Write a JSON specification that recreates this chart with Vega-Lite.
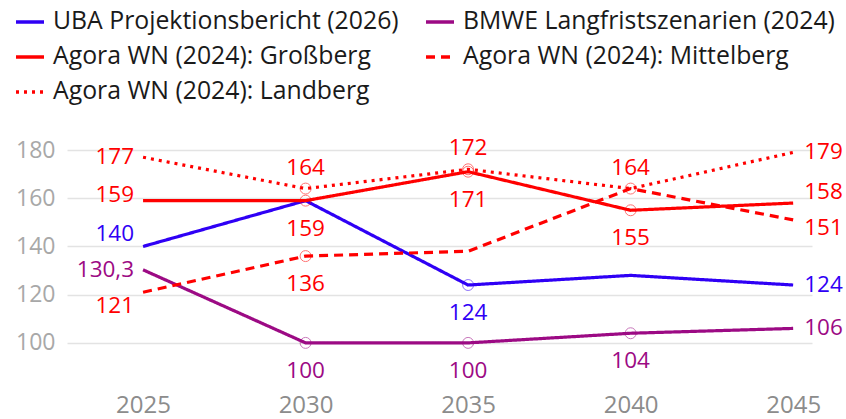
{
  "$schema": "https://vega.github.io/schema/vega-lite/v6.json",
  "width": 745,
  "height": 217,
  "autosize": {"type": "none"},
  "padding": {"left": 67, "top": 150, "right": 34, "bottom": 52},
  "config": {"view": {"stroke": null}, "font": "Open Sans"},
  "data": {
    "values": [
      {"series": "UBA Projektionsbericht (2026)", "year": 2025, "value": 140, "label": "140"},
      {"series": "UBA Projektionsbericht (2026)", "year": 2030, "value": 159, "label": null},
      {"series": "UBA Projektionsbericht (2026)", "year": 2035, "value": 124, "label": "124"},
      {"series": "UBA Projektionsbericht (2026)", "year": 2040, "value": 128, "label": null},
      {"series": "UBA Projektionsbericht (2026)", "year": 2045, "value": 124, "label": "124"},
      {"series": "BMWE Langfristszenarien (2024)", "year": 2025, "value": 130.3, "label": "130,3"},
      {"series": "BMWE Langfristszenarien (2024)", "year": 2030, "value": 100, "label": "100"},
      {"series": "BMWE Langfristszenarien (2024)", "year": 2035, "value": 100, "label": "100"},
      {"series": "BMWE Langfristszenarien (2024)", "year": 2040, "value": 104, "label": "104"},
      {"series": "BMWE Langfristszenarien (2024)", "year": 2045, "value": 106, "label": "106"},
      {"series": "Agora WN (2024): Großberg", "year": 2025, "value": 159, "label": "159"},
      {"series": "Agora WN (2024): Großberg", "year": 2030, "value": 159, "label": "159"},
      {"series": "Agora WN (2024): Großberg", "year": 2035, "value": 171, "label": "171"},
      {"series": "Agora WN (2024): Großberg", "year": 2040, "value": 155, "label": "155"},
      {"series": "Agora WN (2024): Großberg", "year": 2045, "value": 158, "label": "158"},
      {"series": "Agora WN (2024): Mittelberg", "year": 2025, "value": 121, "label": "121"},
      {"series": "Agora WN (2024): Mittelberg", "year": 2030, "value": 136, "label": "136"},
      {"series": "Agora WN (2024): Mittelberg", "year": 2035, "value": 138, "label": null},
      {"series": "Agora WN (2024): Mittelberg", "year": 2040, "value": 164, "label": null},
      {"series": "Agora WN (2024): Mittelberg", "year": 2045, "value": 151, "label": "151"},
      {"series": "Agora WN (2024): Landberg", "year": 2025, "value": 177, "label": "177"},
      {"series": "Agora WN (2024): Landberg", "year": 2030, "value": 164, "label": "164"},
      {"series": "Agora WN (2024): Landberg", "year": 2035, "value": 172, "label": "172"},
      {"series": "Agora WN (2024): Landberg", "year": 2040, "value": 164, "label": "164"},
      {"series": "Agora WN (2024): Landberg", "year": 2045, "value": 179, "label": "179"}
    ]
  },
  "encoding": {
    "x": {
      "field": "year", "type": "quantitative",
      "scale": {"domain": [2022.66, 2045.58], "nice": false, "zero": false},
      "axis": {"values": [2025, 2030, 2035, 2040, 2045], "format": "d", "grid": false, "domain": false, "ticks": false, "labelFontSize": 24, "labelColor": "#8c8c8c", "labelPadding": 26, "title": null}
    },
    "y": {
      "field": "value", "type": "quantitative",
      "scale": {"domain": [90, 180], "nice": false, "zero": false},
      "axis": {"values": [100, 120, 140, 160, 180], "grid": true, "gridColor": "#e3e3e3", "gridWidth": 1.5, "domain": false, "ticks": false, "labelFontSize": 23, "labelColor": "#a8a8a8", "labelPadding": 12, "title": null}
    },
    "color": {
      "field": "series", "type": "nominal",
      "scale": {
        "domain": ["UBA Projektionsbericht (2026)", "BMWE Langfristszenarien (2024)", "Agora WN (2024): Großberg", "Agora WN (2024): Mittelberg", "Agora WN (2024): Landberg"],
        "range": ["#2f00f5", "#9c0a84", "#ff0000", "#ff0000", "#ff0000"]
      },
      "legend": null
    }
  },
  "layer": [
    {
      "mark": {"type": "line", "strokeWidth": 3.2},
      "encoding": {
        "color": {
          "field": "series", "type": "nominal",
          "scale": {
            "domain": ["UBA Projektionsbericht (2026)", "BMWE Langfristszenarien (2024)", "Agora WN (2024): Großberg", "Agora WN (2024): Mittelberg", "Agora WN (2024): Landberg"],
            "range": ["#2f00f5", "#9c0a84", "#ff0000", "#ff0000", "#ff0000"]
          },
          "legend": {
            "title": null, "orient": "none", "legendX": -53, "legendY": -144,
            "direction": "horizontal", "columns": 2, "gridAlign": "none",
            "symbolType": "stroke", "symbolSize": 784, "symbolStrokeWidth": 3.5,
            "labelFontSize": 24.8, "labelColor": "#1a1a1a", "labelOffset": 7,
            "rowPadding": 7, "columnPadding": 20, "labelLimit": 500
          }
        },
        "strokeDash": {
          "field": "series", "type": "nominal",
          "scale": {
            "domain": ["UBA Projektionsbericht (2026)", "BMWE Langfristszenarien (2024)", "Agora WN (2024): Großberg", "Agora WN (2024): Mittelberg", "Agora WN (2024): Landberg"],
            "range": [[1, 0], [1, 0], [1, 0], [9, 6], [3, 5]]
          },
          "legend": {
            "title": null, "orient": "none", "legendX": -53, "legendY": -144,
            "direction": "horizontal", "columns": 2, "gridAlign": "none",
            "symbolType": "stroke", "symbolSize": 784, "symbolStrokeWidth": 3.5,
            "labelFontSize": 24.8, "labelColor": "#1a1a1a", "labelOffset": 7,
            "rowPadding": 7, "columnPadding": 20, "labelLimit": 500
          }
        }
      }
    },
    {
      "transform": [{"filter": "datum.label != null && datum.year > 2025 && datum.year < 2045"}],
      "mark": {"type": "point", "shape": "circle", "filled": false, "size": 120, "strokeWidth": 1, "opacity": 0.55}
    },
    {
      "transform": [{"filter": "datum.year == 2025 && (datum.series == 'Agora WN (2024): Landberg' || datum.series == 'BMWE Langfristszenarien (2024)')"}],
      "mark": {"type": "text", "align": "right", "baseline": "middle", "dx": -9, "fontSize": 22.5},
      "encoding": {"text": {"field": "label"}}
    },
    {
      "transform": [{"filter": "datum.year == 2025 && datum.series == 'Agora WN (2024): Großberg'"}],
      "mark": {"type": "text", "align": "right", "baseline": "middle", "dx": -9, "dy": -6, "fontSize": 22.5},
      "encoding": {"text": {"field": "label"}}
    },
    {
      "transform": [{"filter": "datum.year == 2025 && datum.series == 'UBA Projektionsbericht (2026)'"}],
      "mark": {"type": "text", "align": "right", "baseline": "middle", "dx": -9, "dy": -12, "fontSize": 22.5},
      "encoding": {"text": {"field": "label"}}
    },
    {
      "transform": [{"filter": "datum.year == 2025 && datum.series == 'Agora WN (2024): Mittelberg'"}],
      "mark": {"type": "text", "align": "right", "baseline": "middle", "dx": -9, "dy": 14, "fontSize": 22.5},
      "encoding": {"text": {"field": "label"}}
    },
    {
      "transform": [{"filter": "datum.year == 2045 && datum.series != 'Agora WN (2024): Großberg' && datum.series != 'Agora WN (2024): Mittelberg'"}],
      "mark": {"type": "text", "align": "left", "baseline": "middle", "dx": 11, "fontSize": 22.5},
      "encoding": {"text": {"field": "label"}}
    },
    {
      "transform": [{"filter": "datum.year == 2045 && datum.series == 'Agora WN (2024): Großberg'"}],
      "mark": {"type": "text", "align": "left", "baseline": "middle", "dx": 11, "dy": -11, "fontSize": 22.5},
      "encoding": {"text": {"field": "label"}}
    },
    {
      "transform": [{"filter": "datum.year == 2045 && datum.series == 'Agora WN (2024): Mittelberg'"}],
      "mark": {"type": "text", "align": "left", "baseline": "middle", "dx": 11, "dy": 8, "fontSize": 22.5},
      "encoding": {"text": {"field": "label"}}
    },
    {
      "transform": [{"filter": "datum.label != null && datum.year > 2025 && datum.year < 2045 && datum.series == 'Agora WN (2024): Landberg'"}],
      "mark": {"type": "text", "align": "center", "baseline": "middle", "dy": -21, "fontSize": 22.5},
      "encoding": {"text": {"field": "label"}}
    },
    {
      "transform": [{"filter": "datum.label != null && datum.year > 2025 && datum.year < 2045 && datum.series != 'Agora WN (2024): Landberg'"}],
      "mark": {"type": "text", "align": "center", "baseline": "middle", "dy": 28, "fontSize": 22.5},
      "encoding": {"text": {"field": "label"}}
    }
  ]
}
